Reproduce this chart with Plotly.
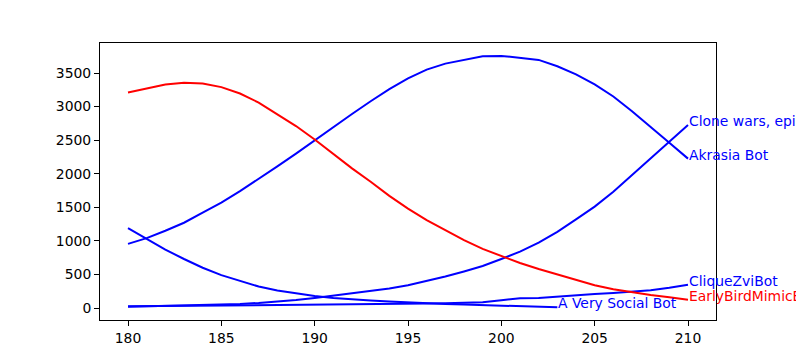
import plotly.graph_objects as go

years = list(range(180, 211))

akrasia = [955, 1040, 1150, 1270, 1420, 1570, 1740, 1920, 2110, 2300, 2500,
           2700, 2890, 3080, 3260, 3420, 3550, 3640, 3700, 3750, 3755,
           3725, 3695, 3600, 3480, 3330, 3150, 2930, 2700, 2460, 2225]
clone_wars = [20, 25, 30, 35, 40, 50, 60, 75, 95, 120, 150,
              185, 220, 255, 290, 340, 400, 470, 545, 625, 730,
              840, 975, 1135, 1320, 1510, 1730, 1980, 2220, 2480, 2725]
clique = [25, 27, 30, 32, 35, 38, 42, 45, 48, 50, 52,
          55, 57, 59, 61, 63, 66, 70, 75, 85, 115,
          145, 150, 172, 192, 210, 225, 242, 265, 300, 348]
very_social = [1190, 1030, 870, 730, 600, 490, 400, 320, 260, 215, 180,
               150, 125, 110, 95, 80, 70, 60, 52, 45, 38,
               28, 14, 10]
early_bird = [3210, 3265, 3330, 3355, 3345, 3290, 3195, 3060, 2890, 2710, 2510,
              2290, 2080, 1880, 1670, 1480, 1310, 1160, 1010, 880, 770,
              670, 580, 500, 420, 340, 280, 235, 195, 160, 122]

series = [
    ("Akrasia Bot", akrasia, "blue"),
    ("Clone wars, episode 1", clone_wars, "blue"),
    ("CliqueZviBot", clique, "blue"),
    ("A Very Social Bot", very_social, "blue"),
    ("EarlyBirdMimicBot", early_bird, "red"),
]

fig = go.Figure()
annotations = []
for name, vals, color in series:
    xs = years[:len(vals)]
    fig.add_trace(go.Scatter(x=xs, y=vals, mode="lines", name=name,
                             line=dict(color=color, width=2)))
    annotations.append(dict(x=xs[-1], y=vals[-1], xref="x", yref="y",
                            text=name, showarrow=False, xanchor="left",
                            yanchor="bottom", yshift=-6, xshift=-1,
                            font=dict(family="DejaVu Sans", size=13.9, color=color)))

axis_common = dict(showgrid=False, zeroline=False, showline=True, linecolor="black",
                   linewidth=1, mirror=True, ticks="outside", ticklen=5,
                   tickcolor="black", tickwidth=1,
                   tickfont=dict(family="DejaVu Sans", size=13.9, color="black"))

fig.update_layout(
    width=796, height=360,
    margin=dict(l=100, r=80, t=43, b=40),
    paper_bgcolor="white", plot_bgcolor="white",
    showlegend=False,
    annotations=annotations,
    xaxis=dict(range=[178.5, 211.5], tickvals=[180, 185, 190, 195, 200, 205, 210], **axis_common),
    yaxis=dict(range=[-178.7, 3947], tickvals=[0, 500, 1000, 1500, 2000, 2500, 3000, 3500], **axis_common),
)

fig.write_html("out.html", config={"displayModeBar": False})

with open("out.html", "r", encoding="utf-8") as f:
    html = f.read()
html = html.replace("<head>", "<head><style>html,body{margin:0;padding:0;overflow:hidden;}</style>", 1)
with open("out.html", "w", encoding="utf-8") as f:
    f.write(html)
